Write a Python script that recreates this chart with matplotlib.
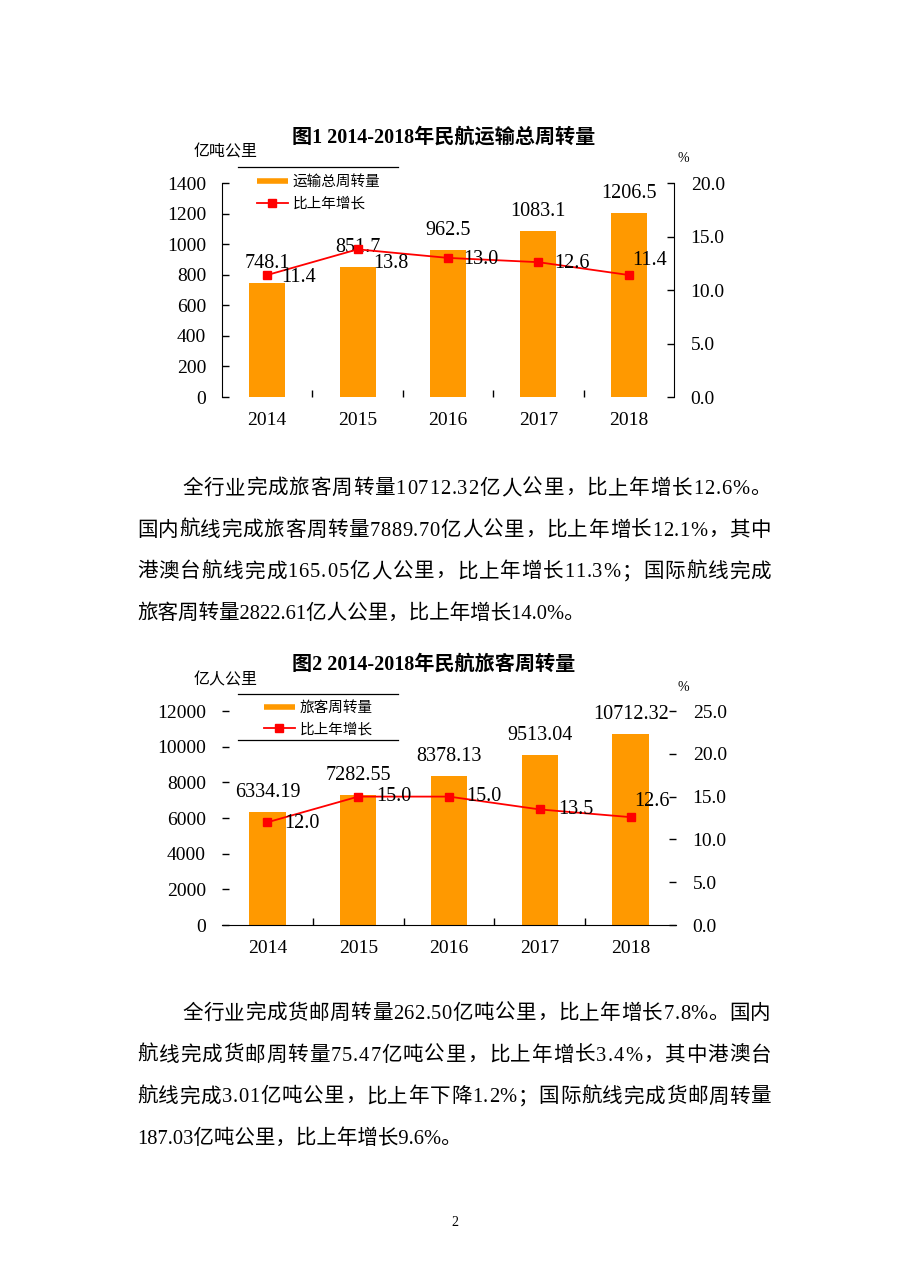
import numpy as np
import matplotlib
matplotlib.use('Agg')
import matplotlib.pyplot as plt
from matplotlib.font_manager import FontProperties
from matplotlib.lines import Line2D
from matplotlib.ticker import FixedLocator, FormatStrFormatter

W, H = 909, 1286
FAM = ['Liberation Serif', 'Noto Sans CJK SC']
plt.rcParams['font.family'] = FAM

years = ['2014', '2015', '2016', '2017', '2018']
cargo_total = [748.1, 851.7, 962.5, 1083.1, 1206.5]
cargo_growth = [11.4, 13.8, 13.0, 12.6, 11.4]
pax_total = [6334.19, 7282.55, 8378.13, 9513.04, 10712.32]
pax_growth = [12.0, 15.0, 15.0, 13.5, 12.6]

para1 = ["全行业完成旅客周转量10712.32亿人公里，比上年增长12.6%。",
         "国内航线完成旅客周转量7889.70亿人公里，比上年增长12.1%，其中",
         "港澳台航线完成165.05亿人公里，比上年增长11.3%；国际航线完成",
         "旅客周转量2822.61亿人公里，比上年增长14.0%。"]
para2 = ["全行业完成货邮周转量262.50亿吨公里，比上年增长7.8%。国内",
         "航线完成货邮周转量75.47亿吨公里，比上年增长3.4%，其中港澳台",
         "航线完成3.01亿吨公里，比上年下降1.2%；国际航线完成货邮周转量",
         "187.03亿吨公里，比上年增长9.6%。"]

ORANGE = '#FF9900'
RED = '#FF0000'

fig = plt.figure(figsize=(W / 100, H / 100), dpi=100)


def box(x0, y0, x1, y1):
    return [x0 / W, 1 - y1 / H, (x1 - x0) / W, (y1 - y0) / H]


def ft(x, y, s, **kw):
    return fig.text(x / W, 1 - y / H, s, **kw)


def hline(x0, x1, y):
    fig.add_artist(Line2D([x0 / W, x1 / W], [1 - y / H, 1 - y / H],
                          color='black', lw=0.9, transform=fig.transFigure))


def chart(top, bottom, right, vals, growth, ymax, ystep, gmax, vfmt,
          offsets, framed, names, leg_x, leg_top):
    ax = fig.add_axes(box(222, top, right, bottom))
    x = np.arange(len(years))
    ax.bar(x, vals, width=0.4, color=ORANGE, zorder=2)
    ax.set_xlim(-0.5, len(years) - 0.5)
    ax.set_ylim(0, ymax)
    ax.set_yticks(np.arange(0, ymax + 1, ystep))
    ax.set_xticks(x)
    ax.set_xticklabels(years)
    ax.xaxis.set_minor_locator(FixedLocator(x[:-1] + 0.5))
    ax.tick_params(axis='x', which='major', length=0, pad=10.5, labelsize=14)
    ax.tick_params(axis='x', which='minor', direction='in', length=5, width=1)
    ax.tick_params(axis='y', direction='in', length=5, width=1, pad=11.5,
                   labelsize=14)
    for v, xi in zip(vals, x):
        ax.annotate(vfmt.format(v), (xi, v), xytext=(0, 14),
                    textcoords='offset points', ha='center', va='center',
                    fontsize=14.5)

    ax2 = ax.twinx()
    ax2.plot(x, growth, color=RED, lw=1.3, marker='s', ms=5.5, zorder=3)
    ax2.set_ylim(0, gmax)
    ax2.set_yticks(np.arange(0, gmax + 0.1, 5))
    ax2.yaxis.set_major_formatter(FormatStrFormatter('%.1f'))
    ax2.tick_params(axis='y', direction='in', length=5, width=1, pad=12,
                    labelsize=14)
    for g, xi, (dx, dy) in zip(growth, x, offsets):
        ax2.annotate('%.1f' % g, (xi, g), xytext=(dx * 0.72, -dy * 0.72),
                     textcoords='offset points', ha='left', va='center',
                     fontsize=14.5)

    for sp in ax.spines.values():
        sp.set_visible(False)
    for sp in ax2.spines.values():
        sp.set_visible(False)
    if framed:
        ax.spines['left'].set_visible(True)
        ax2.spines['right'].set_visible(True)
    else:
        ax.spines['bottom'].set_visible(True)

    handles = [Line2D([], [], color=ORANGE, lw=4, solid_capstyle='butt'),
               Line2D([], [], color=RED, lw=1.3, marker='s', ms=5.5)]
    ax2.legend(handles, names, loc='upper left',
               bbox_to_anchor=(leg_x / W, 1 - leg_top / H),
               bbox_transform=fig.transFigure, frameon=False, fontsize=10.5,
               handlelength=2.1, handletextpad=0.35, labelspacing=0.55,
               borderpad=0, borderaxespad=0, numpoints=1)
    return ax, ax2


# 图1
ft(292, 138, '图1 2014-2018年民航运输总周转量', fontsize=14.5,
   fontweight='bold', va='center')
ft(194, 153, '亿吨公里', fontsize=11.5, va='center')
ft(677, 159, '%', fontsize=10, va='center')
hline(238, 398, 167)
chart(183, 397, 674, cargo_total, cargo_growth, 1400, 200, 20, '{:.1f}',
      [(14, 2), (16, 14), (15, 2), (16, 1), (3, -15)], True,
      ['运输总周转量', '比上年增长'], 257, 175)

# 图2
ft(292, 665, '图2 2014-2018年民航旅客周转量', fontsize=14.5,
   fontweight='bold', va='center')
ft(194, 680, '亿人公里', fontsize=11.5, va='center')
ft(677, 687, '%', fontsize=10, va='center')
hline(238, 398, 694)
hline(238, 398, 740)
chart(711, 925, 676, pax_total, pax_growth, 12000, 2000, 25, '{:.2f}',
      [(17, 1), (18, 0), (17, 0), (18, 0), (4, -16)], False,
      ['旅客周转量', '比上年增长'], 264, 701)

# 正文
renderer = fig.canvas.get_renderer()
prop = FontProperties(family=FAM, size=14.8)


def text_w(s):
    w, h, d = renderer.get_text_width_height_descent(s, prop, ismath=False)
    return w


def para(lines, y0, step):
    for i, s in enumerate(lines):
        x0 = 182 if i == 0 else 137
        yb = y0 + i * step + 8
        if i == len(lines) - 1:
            ft(x0, yb, s, fontproperties=prop, va='baseline')
            continue
        gap = (771 - x0 - text_w(s)) / (len(s) - 1)
        for j, ch in enumerate(s):
            xj = x0 + (text_w(s[:j]) if j else 0) + j * gap
            ft(xj, yb, ch, fontproperties=prop, va='baseline')


para(para1, 486, 41.7)
para(para2, 1011, 41.7)

ft(455, 1222, '2', fontsize=10, ha='center', va='center')

fig.savefig('out.png', dpi=100)
